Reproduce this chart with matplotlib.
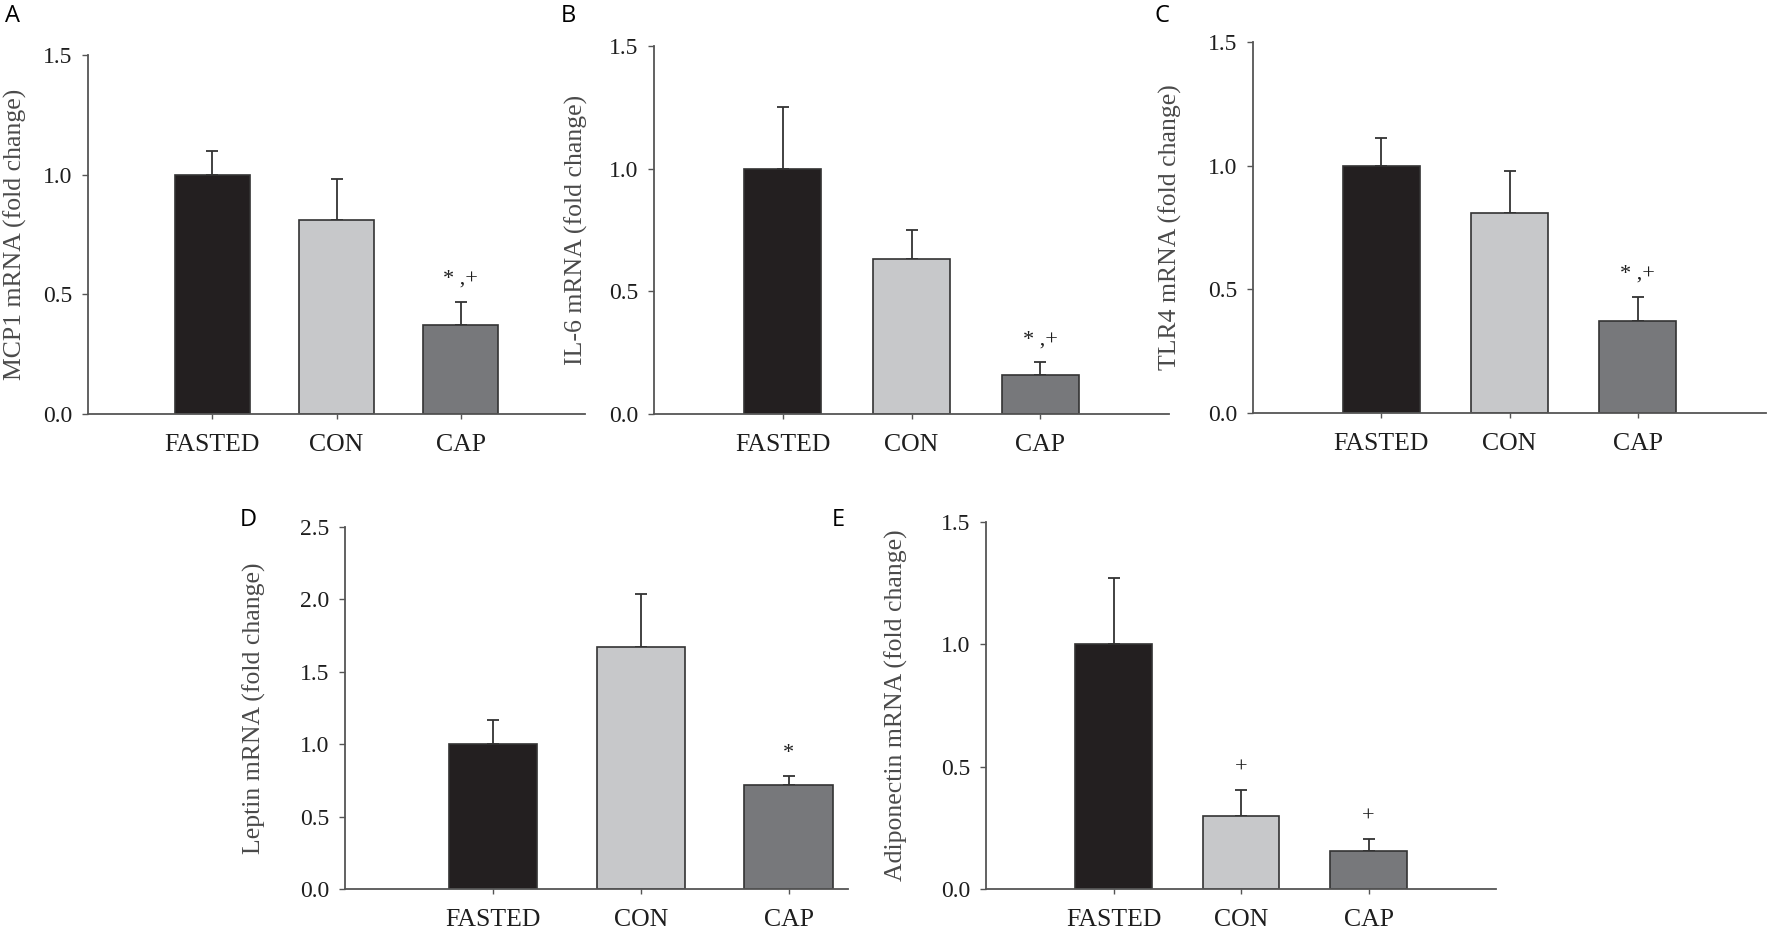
import matplotlib
matplotlib.use("Agg")
import matplotlib.pyplot as plt

# group names and bar colours
categories = ["FASTED", "CON", "CAP"]
bar_colors = ["#231f20", "#c7c8ca", "#77787b"]

# values (mean and upper SEM)
mcp1_mean = [1.00, 0.81, 0.37]
mcp1_err = [0.10, 0.17, 0.10]
il6_mean = [1.00, 0.63, 0.16]
il6_err = [0.25, 0.12, 0.05]
tlr4_mean = [1.00, 0.81, 0.37]
tlr4_err = [0.11, 0.17, 0.10]
leptin_mean = [1.00, 1.67, 0.72]
leptin_err = [0.17, 0.37, 0.06]
adipo_mean = [1.00, 0.30, 0.155]
adipo_err = [0.27, 0.105, 0.05]

# significance marks: (bar index, text)
mcp1_marks = [(2, "* ,+")]
il6_marks = [(2, "* ,+")]
tlr4_marks = [(2, "* ,+")]
leptin_marks = [(2, "*")]
adipo_marks = [(1, "+"), (2, "+")]

W, H = 1767, 930
fig = plt.figure(figsize=(W / 100, H / 100), dpi=100)

SERIF = ["Liberation Serif", "DejaVu Serif"]
SPINE = "#555555"
TXT = "#1e1e1e"


def px_axes(left, right, top, bottom):
    return [left / W, 1 - bottom / H, (right - left) / W, (bottom - top) / H]


def panel(rect, letter, letter_xy, means, errs, marks, ylabel, ymax, xmax, label_x):
    ax = fig.add_axes(rect)
    x = [1, 2, 3]
    ax.bar(x, means, width=0.6, color=bar_colors, edgecolor="#333333", linewidth=1.2, zorder=2)
    ax.errorbar(x, means, yerr=[[0, 0, 0], errs], fmt="none", ecolor="#333333",
                elinewidth=1.3, capsize=4, capthick=1.3, zorder=1)
    for i, txt in marks:
        ax.annotate(txt, xy=(x[i], means[i] + errs[i]), xytext=(0, 16),
                    textcoords="offset points", ha="center", va="center",
                    fontsize=16, family=SERIF, color=TXT)

    ax.set_xlim(0, xmax)
    ax.set_ylim(0, ymax)
    ticks = [k * 0.5 for k in range(int(round(ymax / 0.5)) + 1)]
    ax.set_yticks(ticks)
    ax.set_yticklabels([f"{t:.1f}" for t in ticks])
    ax.set_xticks(x)
    ax.set_xticklabels(categories)

    for s in ["top", "right"]:
        ax.spines[s].set_visible(False)
    for s in ["left", "bottom"]:
        ax.spines[s].set_color(SPINE)
        ax.spines[s].set_linewidth(1.3)

    ax.tick_params(axis="y", direction="out", length=4.3, width=1, color=SPINE,
                   pad=7, labelsize=17, labelcolor=TXT)
    ax.tick_params(axis="x", direction="out", length=3.6, width=1, color=SPINE,
                   pad=11, labelsize=18.5, labelcolor=TXT)
    for lab in ax.get_xticklabels() + ax.get_yticklabels():
        lab.set_family(SERIF)

    ax.set_ylabel(ylabel, fontsize=18.5, family=SERIF, color="#4a4a4a")
    ax.yaxis.set_label_coords(label_x, 0.5)

    fig.text(letter_xy[0] / W, 1 - letter_xy[1] / H, letter, fontsize=17,
             family=["Open Sans", "DejaVu Sans"], ha="left", va="center", color="black")
    return ax


panel(px_axes(88, 585, 55, 414), "A", (5, 16), mcp1_mean, mcp1_err, mcp1_marks,
      "MCP1 mRNA (fold change)", 1.5, 4.0, -0.123)
panel(px_axes(654, 1169, 46, 414), "B", (561, 16), il6_mean, il6_err, il6_marks,
      "IL-6 mRNA (fold change)", 1.5, 4.0, -0.128)
panel(px_axes(1253, 1766, 42, 413), "C", (1154, 16), tlr4_mean, tlr4_err, tlr4_marks,
      "TLR4 mRNA (fold change)", 1.5, 4.0, -0.138)
panel(px_axes(345, 848, 527, 889), "D", (240, 520), leptin_mean, leptin_err, leptin_marks,
      "Leptin mRNA (fold change)", 2.5, 3.4, -0.157)
panel(px_axes(986, 1496, 522, 889), "E", (832, 520), adipo_mean, adipo_err, adipo_marks,
      "Adiponectin mRNA (fold change)", 1.5, 4.0, -0.153)

fig.savefig("out.png", dpi=100, facecolor="white")
